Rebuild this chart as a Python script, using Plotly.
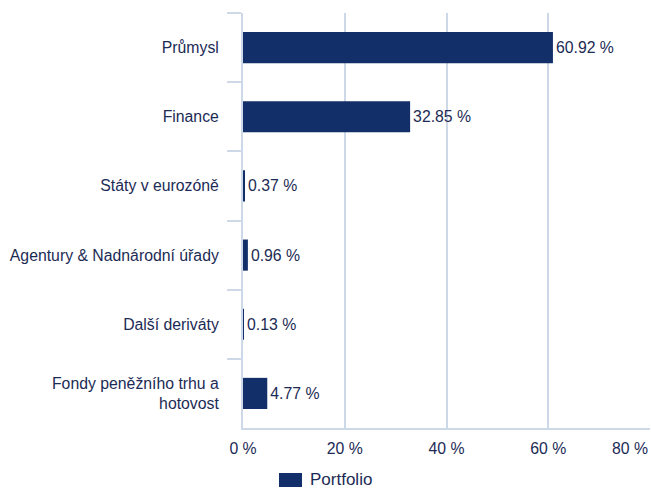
import plotly.graph_objects as go

categories = [
    "Průmysl",
    "Finance",
    "Státy v eurozóně",
    "Agentury & Nadnárodní úřady",
    "Další deriváty",
    "Fondy peněžního trhu a<br>hotovost",
]
values = [60.92, 32.85, 0.37, 0.96, 0.13, 4.77]
value_labels = ["60.92 %", "32.85 %", "0.37 %", "0.96 %", "0.13 %", "4.77 %"]
x_ticks = [0, 20, 40, 60, 80]
x_tick_labels = ["0 %", "20 %", "40 %", "60 %", "80 %"]
series_name = "Portfolio"

BAR = "#132f69"
TXT = "#1c2b55"
GRID = "#cdd8e8"
FONT = "Arial, Liberation Sans, sans-serif"
FS = 15.8

fig = go.Figure()
fig.add_trace(go.Bar(
    y=categories,
    x=values,
    orientation="h",
    name=series_name,
    marker=dict(color=BAR, line=dict(width=0)),
    text=value_labels,
    textposition="outside",
    textfont=dict(family=FONT, size=FS, color=TXT),
    constraintext="none",
    cliponaxis=False,
    showlegend=False,
    hoverinfo="skip",
))

# the last tick label sits right-aligned at the chart edge
shown_tick_labels = x_tick_labels[:-1] + [""]
fig.add_annotation(
    x=x_ticks[-1], xref="x", xanchor="right",
    y=-0.0482, yref="paper", yanchor="middle",
    text=x_tick_labels[-1], showarrow=False,
    font=dict(family=FONT, size=FS, color=TXT),
)

# legend: wide swatch + label
fig.add_shape(
    type="rect", xref="paper", yref="paper",
    x0=0.0885, x1=0.145, y0=-0.1422, y1=-0.1084,
    fillcolor=BAR, line=dict(width=0),
)
fig.add_annotation(
    x=0.160, xref="paper", xanchor="left",
    y=-0.1253, yref="paper", yanchor="middle",
    text=series_name, showarrow=False,
    font=dict(family=FONT, size=17, color=TXT),
)

fig.update_layout(
    width=651,
    height=488,
    margin=dict(l=243, r=1, t=13, b=60, autoexpand=False),
    paper_bgcolor="white",
    plot_bgcolor="white",
    font=dict(family=FONT, size=FS, color=TXT),
    bargap=0.55,
    showlegend=False,
    xaxis=dict(
        range=[0, 80],
        tickvals=x_ticks,
        ticktext=shown_tick_labels,
        showgrid=True,
        gridcolor=GRID,
        gridwidth=1.5,
        zeroline=False,
        showline=True,
        linecolor=GRID,
        linewidth=1.5,
        ticks="",
        ticklabelstandoff=5,
        tickfont=dict(family=FONT, size=FS, color=TXT),
    ),
    yaxis=dict(
        type="category",
        categoryorder="array",
        categoryarray=categories,
        autorange="reversed",
        showgrid=False,
        zeroline=False,
        showline=True,
        linecolor=GRID,
        linewidth=2,
        ticks="outside",
        tickson="boundaries",
        ticklen=14,
        tickcolor=GRID,
        tickwidth=1.5,
        ticklabelstandoff=19,
        tickfont=dict(family=FONT, size=FS, color=TXT),
    ),
)

fig.write_html("out.html")
